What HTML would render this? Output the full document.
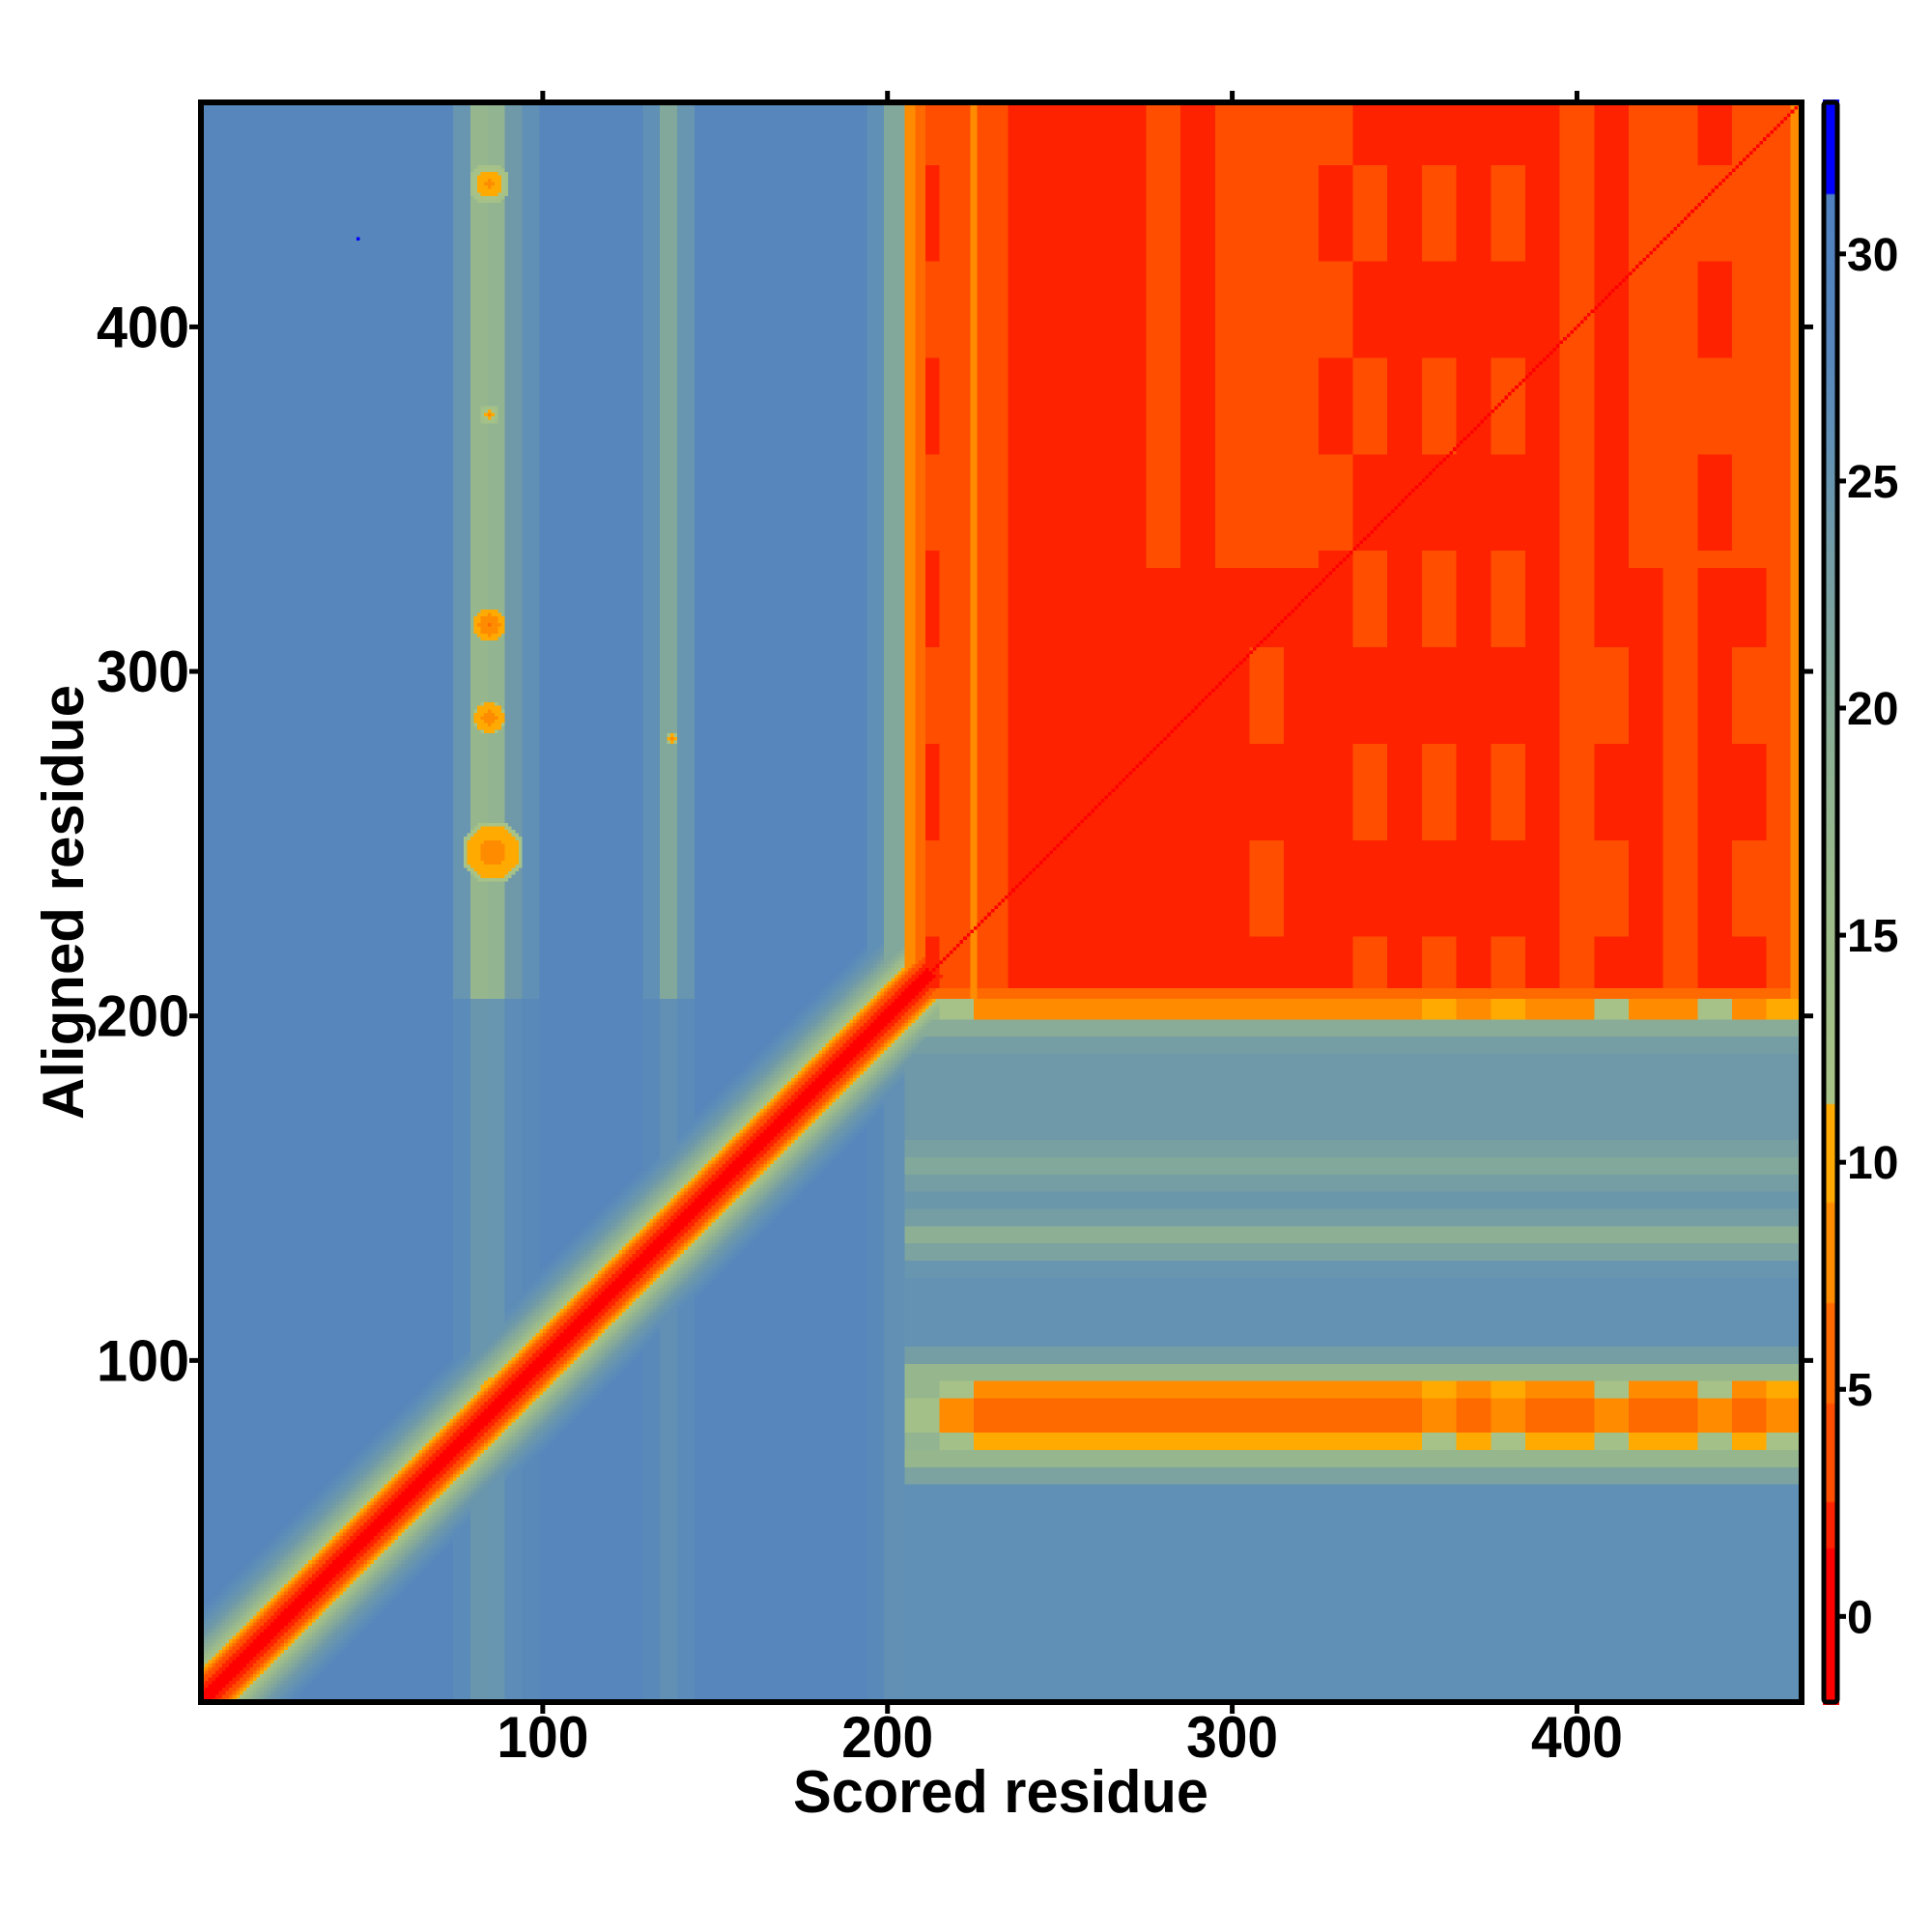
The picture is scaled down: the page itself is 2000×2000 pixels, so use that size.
<!DOCTYPE html>
<html><head><meta charset="utf-8">
<style>
html,body{margin:0;padding:0;background:#fff;}
#wrap{position:relative;width:2000px;height:2000px;overflow:hidden;background:#fff;}
#heat{position:absolute;left:205px;top:103px;width:1663px;height:1662px;image-rendering:pixelated;}
#cb{position:absolute;left:1887px;top:103px;width:17px;height:1662px;}
svg{position:absolute;left:0;top:0;}
text{font-family:"Liberation Sans",sans-serif;font-weight:bold;fill:#000;}
</style></head>
<body>
<div id="wrap">
<canvas id="heat" width="466" height="466"></canvas>
<canvas id="cb" width="1" height="831"></canvas>
<svg id="ov" width="2000" height="2000">
<rect x="208" y="106" width="1657" height="1656" fill="none" stroke="#000" stroke-width="6"/>
<rect x="1888" y="106" width="14" height="1656" fill="none" stroke="#000" stroke-width="5" rx="3"/>
<text x="1036" y="1876" font-size="62" text-anchor="middle" textLength="430" lengthAdjust="spacingAndGlyphs">Scored residue</text>
<text transform="translate(86,934) rotate(-90)" font-size="60" text-anchor="middle" textLength="450" lengthAdjust="spacingAndGlyphs">Aligned residue</text>
<g id="ticks"></g>
</svg>
</div>
<script>
// ---- data ----
const N = 466;
const xTicks = [100, 200, 300, 400];
const yTicks = [100, 200, 300, 400];
const cbTicks = [0, 5, 10, 15, 20, 25, 30];
const cbRange = [-1.95, 33.4];
// diagonal band profile by |x-y|
const diagProfile = [0,0.5,1,1.5,2,3,4.5,6,8,10,12,14,16,17.5,19,20,21,22,23,24,24.5,25,25.5,26,26.5,27,27.5,28,28,28,28];
// upper-left column profile (5-residue bins, x 0..205)
const ulCol = [28,28,28,28,28,28,28,28,28,28,28,28,28,28,28,25,17,18,24,26,28,28,28,28,28,28,26,21,25,28,28,28,28,28,28,28,28,28,28,26,21];
// lower-right row profile (5-residue bins, y 0..205)
const lrRow = [26,26,26,26,26,26,26,26,26,26,26,26,26,22,17,10,5,5,9,17,23,25.5,25.5,25.5,25.5,25,22,19,23,24.5,23,21,22.5,24,24,24,24,24,23,20,9];
// band attenuation per 10-residue column bin (x 206..465)
const lrBandAdj = [8,3,0,0,0,0,0,0,0,0,0,0,0,0,0,2,0,2,0,0,3,0,0,3,0,2];
// upper-right column values (10-residue bins), top part (y>330) and bottom part
const urTop = [3,4,4,2,2,2,2,4,2,4,4,4,3,3,2,3,2,3,2,4,2,4,4,3,4,4];
const urBot = [3,4,4,2,2,2,2,2,2,2,3,2,2,3,2,3,2,3,2,4,3,2,4,2,3,4];
// spots: x, y, radius, value
const spotX = [85,85,85,85,86,138,88];
const spotY = [442,375,314,287,248,281,90];
const spotR = [6,3,5,5,9,2,6];
const spotV = [8,9,6,7,7,8,6];
const blueDot = [47,426];

const X0=205, X1=1868, Y0=1765, Y1=103;
function sx(v){return X0+(v/N)*(X1-X0);}
function sy(v){return Y0-(v/N)*(Y0-Y1);}

const stepBands=[[1.5,[255,0,0]],[2.5,[255,34,0]],[4.7,[255,78,0]],[6.9,[255,106,0]],[9.1,[255,140,0]],[11.3,[255,170,0]]];
const stops=[[11.3,[168,195,135]],[16,[155,187,139]],[20,[136,172,151]],[24,[111,153,168]],[26,[96,144,181]],[28,[86,134,187]],[31.3,[80,128,192]]];
function cmap(v){
  for(const b of stepBands){ if(v<b[0]) return b[1]; }
  if(v>31.3) return [0,0,255];
  for(let k=1;k<stops.length;k++){
    if(v<=stops[k][0]){const a=stops[k-1],b=stops[k];const t=(v-a[0])/(b[0]-a[0]);
      return [0,1,2].map(q=>Math.round(a[1][q]+(b[1][q]-a[1][q])*t));}
  }
  return stops[stops.length-1][1];
}
function val(i,j){
  let v;
  if(i<=205&&j<=205){const k=Math.min(40,Math.floor(i/5));v=28-(28-ulCol[k])*0.3;}
  else if(i<=205){v=ulCol[Math.min(40,Math.floor(i/5))];}
  else if(j<=205){v=lrRow[Math.min(40,Math.floor(j/5))];
    if(v<16) v+=lrBandAdj[Math.min(25,Math.floor((i-206)/10))];}
  else{
    const b=Math.min(25,Math.floor((i-206)/10));
    v=(j>330?urTop[b]:urBot[b]);
    if(v===3) v=((Math.floor(j/28)+b)%2)?2:4;
    if(i<=208) v=9; else if(i<=211) v=5;
    if(i===225||i===226) v=8;
    if(i>=463) v=7;
    if(j<=208) v=Math.max(v,5);
  }
  const d=Math.abs(i-j);
  if(i<=212||j<=212) v=Math.min(v,diagProfile[Math.min(d,30)]);
  else if(d===0) v=Math.min(v,0.5);
  for(let s=0;s<spotX.length;s++){
    const dist=Math.hypot(i-spotX[s],j-spotY[s]);
    if(dist<spotR[s]) v=Math.min(v,spotV[s]+dist/spotR[s]*5);
  }
  if(i===blueDot[0]&&j===blueDot[1]) v=33;
  return v;
}
const hc=document.getElementById('heat');const ctx=hc.getContext('2d');
const img=ctx.createImageData(N,N);
for(let j=1;j<=N;j++){for(let i=1;i<=N;i++){
  const c=cmap(val(i,j));const p=((N-j)*N+(i-1))*4;
  img.data[p]=c[0];img.data[p+1]=c[1];img.data[p+2]=c[2];img.data[p+3]=255;}}
ctx.putImageData(img,0,0);

const cc=document.getElementById('cb');const cx=cc.getContext('2d');
for(let r=0;r<831;r++){const v=cbRange[1]-(r+0.5)/831*(cbRange[1]-cbRange[0]);
  const c=cmap(v);cx.fillStyle='rgb('+c.join(',')+')';cx.fillRect(0,r,1,1);}

const NS='http://www.w3.org/2000/svg';const g=document.getElementById('ticks');
function mk(tag,attrs){const e=document.createElementNS(NS,tag);for(const k in attrs)e.setAttribute(k,attrs[k]);g.appendChild(e);return e;}
xTicks.forEach(t=>{
  const x=sx(t);
  const a=mk('line',{x1:x,x2:x,y1:Y1,y2:Y1-9,stroke:'#000','stroke-width':5});
  
  
  const b=mk('line',{x1:x,x2:x,y1:Y0,y2:Y0+9,stroke:'#000','stroke-width':5});
  
  
  const tx=mk('text',{x:x,y:1819,'font-size':60,'text-anchor':'middle',textLength:95,lengthAdjust:'spacingAndGlyphs'});
  tx.textContent=t;
  
  
});
yTicks.forEach(t=>{
  const y=sy(t);
  const a=mk('line',{x1:X0,x2:X0-9,y1:y,y2:y,stroke:'#000','stroke-width':5});
  
  
  const b=mk('line',{x1:X1,x2:X1+9,y1:y,y2:y,stroke:'#000','stroke-width':5});
  
  
  const tx=mk('text',{x:196,y:y+21,'font-size':60,'text-anchor':'end',textLength:96,lengthAdjust:'spacingAndGlyphs'});
  tx.textContent=t;
  
  
});
cbTicks.forEach(t=>{
  const y=Y0-(t-cbRange[0])/(cbRange[1]-cbRange[0])*(Y0-Y1);
  const a=mk('line',{x1:1903,x2:1911,y1:y,y2:y,stroke:'#000','stroke-width':5});
  
  
  const tx=mk('text',{x:1912,y:y+17,'font-size':48});
  tx.textContent=t;
  
  
});
</script>
</body></html>
